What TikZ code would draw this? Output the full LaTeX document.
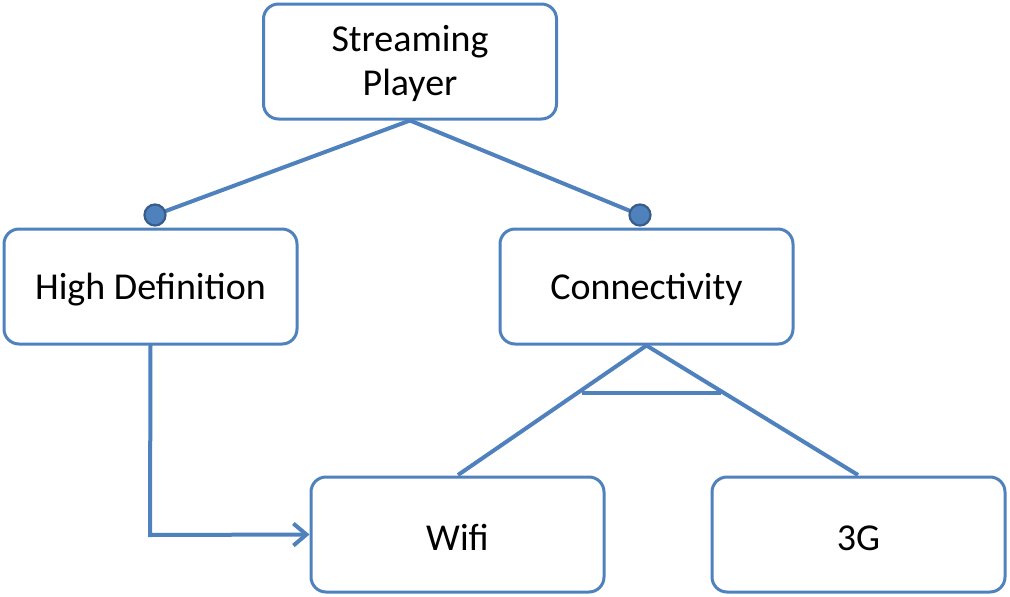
\documentclass[tikz,border=0pt]{standalone}
\usepackage{fontspec}
\setmainfont{Carlito}
\usetikzlibrary{arrows.meta}
\definecolor{lineblue}{HTML}{4F81BD}
\definecolor{darkblue}{HTML}{385D8A}
\begin{document}
\begin{tikzpicture}[x=1pt,y=-1pt,
  box/.style={draw=lineblue,line width=3pt,rounded corners=15pt,fill=white,
    minimum width=293pt,minimum height=115pt,inner sep=0pt,align=center,
    font=\fontsize{38}{44}\selectfont},
  conn/.style={draw=lineblue,line width=4pt},
  dot/.style={circle,fill=lineblue,draw=darkblue,line width=2.2pt,minimum size=21pt,inner sep=0pt}]
\useasboundingbox (0,0) rectangle (1010,597);
\node[box] (sp) at (410,61.5) {\rule{0pt}{30pt}Streaming\\Player};
\node[box,text height=32pt] (hd) at (150.5,286.5) {High Definition};
\node[box,text height=32pt] (cn) at (646.5,286.5) {Connectivity};
\node[box,text height=32pt] (wf) at (457.5,534.5) {Wifi};
\node[box,text height=32pt] (g3) at (858.5,534.5) {3G};
\coordinate (c1) at (155,215);
\coordinate (c2) at (640,215);
\draw[conn] (sp.south) -- (c1);
\draw[conn] (sp.south) -- (c2);
\node[dot] at (c1) {};
\node[dot] at (c2) {};
\coordinate (w1) at (458,475);
\coordinate (w2) at (858,475);
\draw[conn] (cn.south) -- (w1);
\draw[conn] (cn.south) -- (w2);
\coordinate (b1) at (582,392.5);
\coordinate (b2) at (721,392.5);
\draw[conn] (b1) -- (b2);
\draw[conn,line cap=round,-{Straight Barb[length=13pt,width=22pt,line width=4pt]}] (hd.south) -- (150,535) -- (wf.west);
\end{tikzpicture}
\end{document}
